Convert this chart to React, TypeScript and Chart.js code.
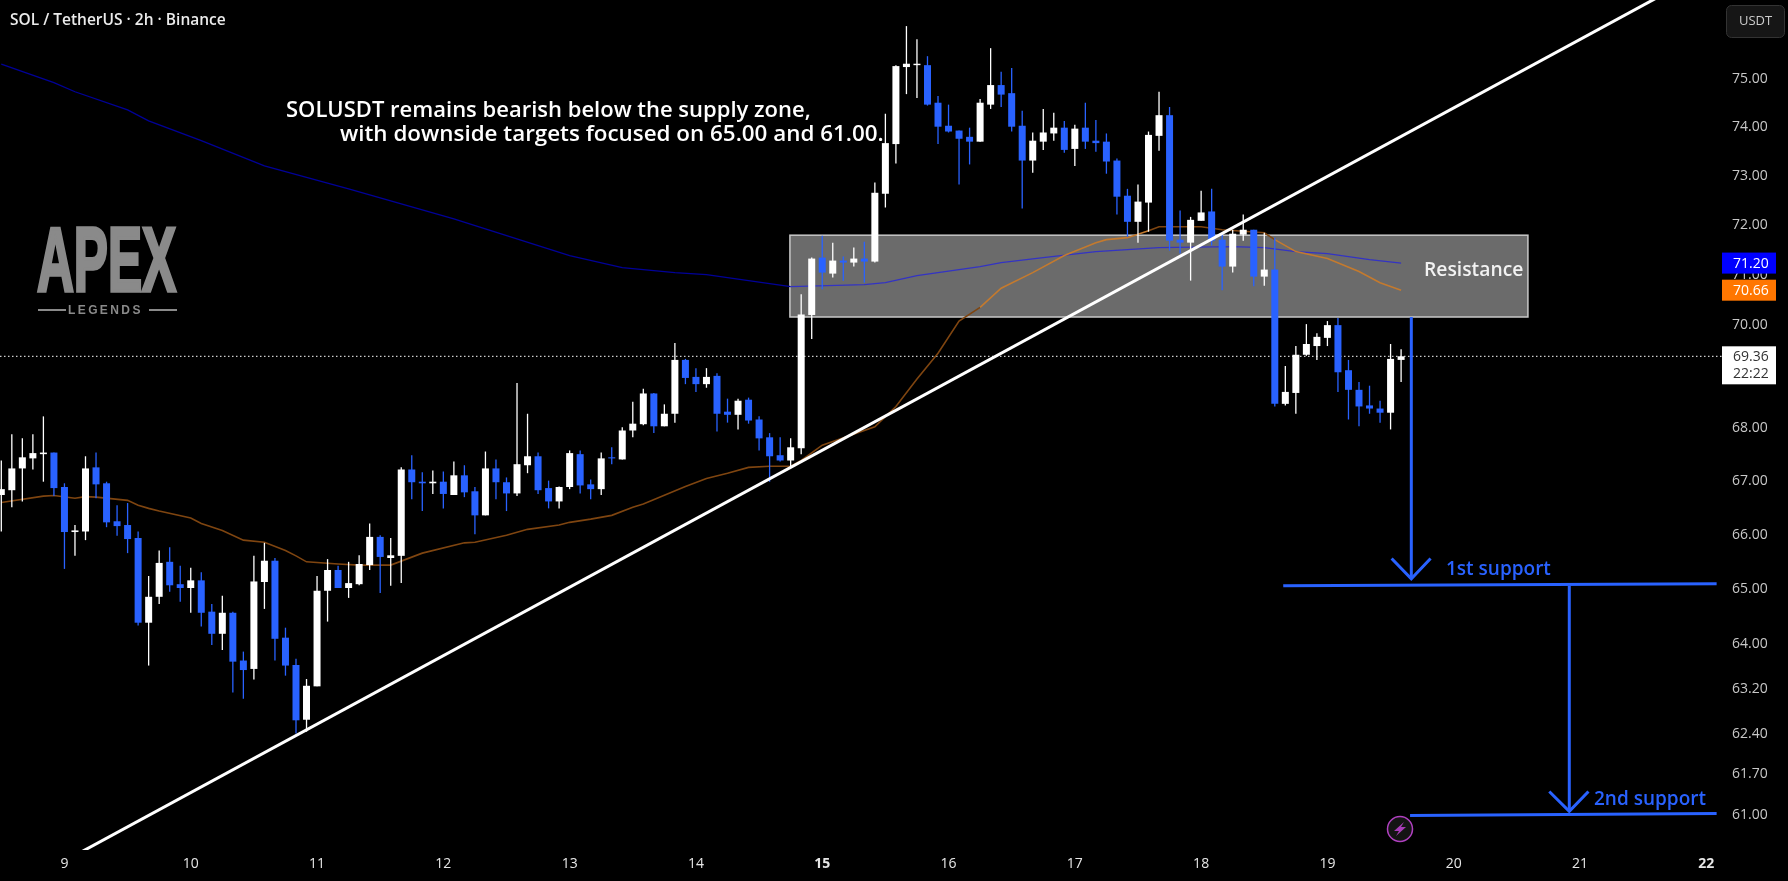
import React, { useEffect, useRef } from "react";
import { Chart, registerables } from "chart.js";

Chart.register(...registerables);

const opens = [
  66.71,66.80,67.21,67.40,67.48,67.51,66.86,66.02,66.03,67.23,
  66.93,66.22,66.15,65.91,64.36,64.83,65.47,65.06,64.99,65.13,
  64.56,64.16,64.54,63.68,63.53,65.10,65.49,64.09,63.60,62.63,
  63.22,64.94,65.32,64.99,65.06,65.41,65.93,65.54,65.58,67.19,
  66.96,66.93,66.96,66.71,67.08,66.78,66.33,67.21,66.95,66.74,
  67.27,67.44,66.84,66.59,66.86,67.48,66.91,66.82,67.42,67.38,
  67.93,68.05,68.64,68.01,68.25,69.29,68.96,68.82,68.98,68.29,
  68.23,68.52,68.14,67.80,67.46,67.36,67.59,70.17,71.31,70.99,
  71.25,71.21,71.29,71.23,72.60,73.62,75.23,75.27,75.27,74.48,
  74.00,73.90,73.77,73.67,74.44,74.85,74.68,74.00,73.28,73.67,
  73.84,73.96,73.52,73.96,73.69,73.67,73.28,72.56,72.03,72.42,
  73.79,74.22,71.67,71.61,72.05,72.24,71.67,71.13,71.77,71.87,
  70.93,71.07,68.44,68.65,69.39,69.56,69.72,69.97,69.09,68.71,
  68.41,68.35,68.27,69.29,
];
const closes = [
  66.82,67.21,67.42,67.50,67.51,66.84,66.02,66.05,67.21,66.91,
  66.20,66.13,65.89,64.36,64.83,65.45,65.04,64.99,65.13,64.54,
  64.16,64.54,63.66,63.51,65.11,65.49,64.07,63.59,62.62,63.23,
  64.94,65.32,64.99,65.08,65.43,65.93,65.56,65.59,67.19,66.95,
  66.93,66.96,66.73,67.08,66.76,66.33,67.21,66.95,66.74,67.29,
  67.44,66.80,66.59,66.86,67.50,66.89,66.82,67.40,67.40,67.93,
  68.06,68.64,68.01,68.25,69.29,68.94,68.82,68.96,68.25,68.23,
  68.50,68.12,67.78,67.44,67.36,67.61,70.18,71.29,71.01,71.25,
  71.21,71.29,71.23,72.62,73.64,75.25,75.30,75.30,74.44,73.98,
  73.88,73.73,73.67,74.48,74.85,74.65,73.98,73.28,73.69,73.86,
  73.96,73.50,73.94,73.67,73.64,73.26,72.54,72.03,72.44,73.81,
  74.22,71.65,71.61,72.07,72.22,71.65,71.13,71.79,71.87,70.93,
  71.07,68.44,68.67,69.39,69.60,69.74,69.97,69.05,68.71,68.39,
  68.35,68.27,69.31,69.36,
];
const highs = [
  67.36,67.86,67.78,67.86,68.20,67.51,66.93,66.15,67.44,67.51,
  66.96,66.52,66.56,66.03,65.21,65.68,65.74,65.40,65.36,65.28,
  64.70,64.85,64.56,63.84,65.58,65.82,65.54,64.27,63.71,63.35,
  65.21,65.52,65.40,65.47,65.59,66.18,65.96,65.91,67.23,67.46,
  67.14,67.17,67.15,67.34,67.27,66.86,67.53,67.38,67.04,68.84,
  68.25,67.51,66.98,66.87,67.55,67.55,67.00,67.51,67.61,67.99,
  68.48,68.73,68.65,68.43,69.62,69.31,69.13,69.13,69.03,68.54,
  68.54,68.56,68.20,67.88,67.80,67.78,70.58,71.31,71.75,71.61,
  71.33,71.51,71.63,72.83,74.25,75.27,76.10,75.82,75.46,74.62,
  74.44,73.90,73.96,74.56,75.63,75.13,75.21,74.31,73.86,74.35,
  74.27,74.10,74.02,74.48,74.12,73.84,73.32,72.70,72.79,73.88,
  74.71,74.39,72.26,72.13,72.66,72.70,71.81,71.87,72.18,71.87,
  71.81,71.71,69.17,69.56,69.99,69.81,70.05,70.11,69.29,68.86,
  68.79,68.50,69.60,69.50,
];
const lows = [
  66.03,66.48,66.59,67.19,66.96,66.69,65.34,65.58,65.87,66.65,
  66.11,65.95,65.63,64.31,63.59,64.70,64.92,64.74,64.54,64.29,
  63.96,63.87,63.11,63.00,63.34,64.61,63.68,63.41,62.39,62.42,
  63.22,64.38,64.99,64.81,65.04,65.32,64.90,65.03,65.08,66.63,
  66.41,66.73,66.46,66.71,66.67,65.98,66.33,66.63,66.41,66.69,
  67.12,66.73,66.46,66.46,66.82,66.74,66.63,66.71,67.29,67.38,
  67.80,68.03,67.88,68.01,68.08,68.82,68.67,68.75,67.91,68.08,
  67.95,68.06,67.55,66.96,67.34,67.25,67.48,69.70,70.68,70.91,
  70.85,71.13,70.81,71.21,72.32,73.22,74.66,74.58,74.42,73.62,
  73.86,72.79,73.20,73.67,74.35,74.39,73.88,72.30,73.03,73.50,
  73.69,73.44,73.17,73.52,73.46,73.01,72.18,71.73,71.61,71.83,
  73.48,71.45,71.39,70.85,72.05,71.55,70.66,71.01,71.65,70.74,
  70.75,68.39,68.41,68.25,69.37,69.29,69.56,68.67,68.14,68.01,
  68.25,68.08,67.95,68.86,
];

const ma200Index = [0,5,7,12,14,19,25,33,43,54,59,64,67,75,82,84,87,93,95,99,104,110,117,120,123,126,130,133];
const ma200Value = [75.29,74.90,74.71,74.33,74.10,73.69,73.17,72.70,72.09,71.35,71.11,71.01,70.97,70.73,70.77,70.81,70.95,71.13,71.21,71.31,71.43,71.51,71.53,71.51,71.43,71.39,71.27,71.20];

const ema50Index = [0,4,5,7,8,9,12,13,14,15,18,19,21,23,25,27,28,29,32,34,37,40,44,45,48,50,53,54,56,58,60,61,65,67,69,71,73,75,76,78,83,85,87,89,91,93,95,98,101,104,105,107,109,110,114,116,120,121,122,123,126,129,131,133];
const ema50Value = [66.57,66.69,66.70,66.65,66.68,66.67,66.61,66.52,66.46,66.41,66.28,66.18,66.05,65.87,65.83,65.68,65.58,65.47,65.43,65.41,65.41,65.63,65.82,65.83,65.96,66.07,66.15,66.20,66.26,66.33,66.48,66.54,66.87,67.02,67.12,67.23,67.25,67.25,67.36,67.65,68.00,68.39,68.92,69.42,70.05,70.32,70.70,71.01,71.35,71.61,71.67,71.71,71.85,71.93,71.93,71.87,71.81,71.67,71.55,71.43,71.29,71.03,70.81,70.66];

const dayTickIndex = [6,18,30,42,54,66,78,90,102,114,126,138,150,162];
const dayTickLabels = ["9","10","11","12","13","14","15","16","17","18","19","20","21","22"];
const boldDays = ["15","22"];
const priceTicks = [75,74,73,72,71,70,68,67,66,65,64,63.2,62.4,61.7,61];

const lastPrice = 69.36;
const ma200Last = 71.2;
const ema50Last = 70.66;
const countdown = "22:22";

const resistanceIndex = [74.93, 145.05];
const resistancePrice = [70.13, 71.76];

const trendIndex = [7.63, 157.4];
const trendPrice = [60.35, 76.72];
const arrow1Index = [133.97, 133.97];
const arrow1Price = [70.13, 65.16];
const head1Index = [132.1, 133.97, 135.8];
const head1Price = [65.53, 65.16, 65.53];
const support1Index = [121.8, 162.98];
const support1Price = [65.03, 65.07];
const arrow2Index = [148.98, 148.98];
const arrow2Price = [65.03, 61.04];
const head2Index = [147.08, 148.98, 150.8];
const head2Price = [61.38, 61.04, 61.38];
const support2Index = [133.85, 162.98];
const support2Price = [60.97, 61.0];

const X_MIN = -0.1235;
const X_MAX = 163.49;
const Y_MIN = 60.38;
const Y_MAX = 76.66;

const BLUE = "#2962ff";
const WHITE = "#ffffff";
const FONT = "'Open Sans', sans-serif";

const zip = (xs: number[], ys: number[]) => xs.map((x, i) => ({ x, y: ys[i] }));

const inBox = (p: any) =>
  p.parsed.x >= resistanceIndex[0] &&
  p.parsed.y <= resistancePrice[1] &&
  p.parsed.y >= resistancePrice[0];

const annotationLine = (xs: number[], ys: number[], color: string, width: number, order = 0, dash: number[] = []) => ({
  type: "line" as const,
  data: zip(xs, ys),
  borderColor: color,
  borderWidth: width,
  borderDash: dash,
  pointRadius: 0,
  tension: 0,
  order,
});

const overlay = {
  id: "overlay",
  beforeDraw(chart: any) {
    const { ctx, width, height } = chart;
    ctx.save();
    ctx.fillStyle = "#000";
    ctx.fillRect(0, 0, width, height);
    ctx.restore();
  },
  beforeDatasetsDraw(chart: any) {
    const { ctx, scales } = chart;
    const x0 = scales.x.getPixelForValue(resistanceIndex[0]);
    const x1 = scales.x.getPixelForValue(resistanceIndex[1]);
    const y0 = scales.y.getPixelForValue(resistancePrice[1]);
    const y1 = scales.y.getPixelForValue(resistancePrice[0]);
    ctx.save();
    ctx.fillStyle = "#6b6b6b";
    ctx.fillRect(x0, y0, x1 - x0, y1 - y0);
    ctx.strokeStyle = "#c9c9c9";
    ctx.lineWidth = 1.5;
    ctx.strokeRect(x0, y0, x1 - x0, y1 - y0);
    ctx.restore();

    // watermark
    ctx.save();
    ctx.fillStyle = "#8a8a8a";
    ctx.strokeStyle = "#8a8a8a";
    ctx.lineWidth = 4;
    ctx.lineJoin = "miter";
    ctx.font = "bold 100px 'Liberation Sans Narrow', 'Liberation Sans', sans-serif";
    ctx.textBaseline = "alphabetic";
    const m = ctx.measureText("APEX").width;
    ctx.translate(37, 291);
    ctx.scale(139 / m, 66 / 72);
    ctx.fillText("APEX", 0, 0);
    ctx.strokeText("APEX", 0, 0);
    ctx.restore();
    ctx.save();
    ctx.fillStyle = "#8a8a8a";
    ctx.fillRect(38, 309, 28, 2);
    ctx.fillRect(149, 309, 28, 2);
    ctx.font = "bold 12px 'Liberation Sans', sans-serif";
    (ctx as any).letterSpacing = "2.4px";
    ctx.textBaseline = "middle";
    ctx.fillText("LEGENDS", 68, 311);
    ctx.restore();
  },
  afterDatasetsDraw(chart: any) {
    const { ctx } = chart;
    ctx.save();
    ctx.textBaseline = "middle";
    ctx.fillStyle = WHITE;
    ctx.font = `600 22px ${FONT}`;
    ctx.fillText("SOLUSDT remains bearish below the supply zone,", 286, 111);
    ctx.font = `600 22.4px ${FONT}`;
    ctx.fillText("with downside targets focused on 65.00 and 61.00.", 340, 135);
    ctx.fillStyle = "#f2f2f2";
    ctx.font = `600 19.3px ${FONT}`;
    ctx.fillText("Resistance", 1424, 271);
    ctx.fillStyle = BLUE;
    ctx.font = `600 19px ${FONT}`;
    ctx.fillText("1st support", 1446, 570);
    ctx.fillText("2nd support", 1594, 800);
    ctx.restore();
  },
  afterDraw(chart: any) {
    const { ctx, scales } = chart;
    ctx.save();
    ctx.textBaseline = "middle";

    // price axis labels
    ctx.font = `14px ${FONT}`;
    ctx.fillStyle = "#c8c8c8";
    priceTicks.forEach((p) => {
      ctx.fillText(p.toFixed(2), 1732, scales.y.getPixelForValue(p) + 1.5);
    });

    const label = (price: number, h: number, bg: string) => {
      const y = scales.y.getPixelForValue(price);
      ctx.fillStyle = bg;
      ctx.fillRect(1722, y - h, 54, h * 2);
      return y;
    };
    let y = label(ma200Last, 10.5, "#0000ff");
    ctx.fillStyle = "#ffffff";
    ctx.fillText(ma200Last.toFixed(2), 1733, y + 1);
    y = label(ema50Last, 10.5, "#ff7600");
    ctx.fillStyle = "#ffffff";
    ctx.fillText(ema50Last.toFixed(2), 1733, y + 1);

    const ly = scales.y.getPixelForValue(lastPrice);
    ctx.fillStyle = "#ffffff";
    ctx.fillRect(1722, ly - 10, 54, 38);
    ctx.fillStyle = "#333333";
    ctx.fillText(lastPrice.toFixed(2), 1733, ly + 1);
    ctx.fillText(countdown, 1733, ly + 18);

    // currency button
    ctx.fillStyle = "#161616";
    ctx.strokeStyle = "#333333";
    ctx.lineWidth = 1;
    ctx.beginPath();
    ctx.roundRect(1726.5, 5.5, 58, 32, 5);
    ctx.fill();
    ctx.stroke();
    ctx.fillStyle = "#cccccc";
    ctx.font = `13px ${FONT}`;
    ctx.textAlign = "center";
    ctx.fillText("USDT", 1755.5, 21.5);
    ctx.textAlign = "left";

    // header
    ctx.fillStyle = "#ebebeb";
    ctx.font = `600 15.5px ${FONT}`;
    ctx.fillText("SOL / TetherUS · 2h · Binance", 10, 20.5);

    // lightning badge
    ctx.beginPath();
    ctx.arc(1400, 829, 12.5, 0, Math.PI * 2);
    ctx.fillStyle = "#141414";
    ctx.fill();
    ctx.strokeStyle = "#b040c0";
    ctx.lineWidth = 1.5;
    ctx.stroke();
    ctx.beginPath();
    [[4,-7],[-6,2],[-1,2],[-4,7],[6,-2],[1,-2]].forEach(([dx, dy], i) =>
      i ? ctx.lineTo(1400 + dx, 829 + dy) : ctx.moveTo(1400 + dx, 829 + dy));
    ctx.closePath();
    ctx.fillStyle = "#a83cb8";
    ctx.fill();
    ctx.restore();
  },
};

export default function App() {
  const ref = useRef<HTMLCanvasElement | null>(null);

  useEffect(() => {
    document.body.style.margin = "0";
    document.body.style.background = "#000";
    const idx = opens.map((_, i) => i);
    const colors = closes.map((c, i) => (c >= opens[i] ? WHITE : BLUE));
    const chart = new Chart(ref.current as HTMLCanvasElement, {
      type: "bar",
      data: {
        datasets: [
          annotationLine(trendIndex, trendPrice, WHITE, 3),
          annotationLine(arrow1Index, arrow1Price, BLUE, 3),
          annotationLine(head1Index, head1Price, BLUE, 3),
          annotationLine(support1Index, support1Price, BLUE, 3),
          annotationLine(arrow2Index, arrow2Price, BLUE, 3),
          annotationLine(head2Index, head2Price, BLUE, 3),
          annotationLine(support2Index, support2Price, BLUE, 3),
          {
            type: "bar" as const,
            data: idx.map((i) => ({ x: i, y: [opens[i], closes[i]] })),
            backgroundColor: colors,
            barThickness: 7,
            grouped: false,
            inflateAmount: 0,
            order: 1,
          },
          {
            type: "bar" as const,
            data: idx.map((i) => ({ x: i, y: [lows[i], highs[i]] })),
            backgroundColor: colors,
            barThickness: 1.3,
            grouped: false,
            inflateAmount: 0,
            order: 2,
          },
          {
            ...annotationLine(ema50Index, ema50Value, "#7f4510", 1.6, 3),
            segment: { borderColor: (c: any) => (inBox(c.p0) ? "#c47a2e" : undefined) },
          },
          {
            ...annotationLine(ma200Index, ma200Value, "#000098", 1.3, 4),
            segment: { borderColor: (c: any) => (inBox(c.p0) ? "#3333c4" : undefined) },
          },
          annotationLine([X_MIN, X_MAX], [lastPrice, lastPrice], "#ffffff", 1, 5, [1.5, 2.5]),
        ] as any,
      },
      options: {
        animation: false,
        responsive: false,
        devicePixelRatio: 1,
        layout: { padding: 0, autoPadding: false },
        plugins: { legend: { display: false }, tooltip: { enabled: false } },
        scales: {
          x: {
            type: "linear",
            min: X_MIN,
            max: X_MAX,
            offset: false,
            grid: { display: false, drawTicks: false },
            border: { display: false },
            afterBuildTicks: (s: any) => {
              s.ticks = dayTickIndex.map((value) => ({ value }));
            },
            afterFit: (s: any) => {
              s.height = 31;
              s.paddingLeft = 0;
              s.paddingRight = 0;
            },
            ticks: {
              autoSkip: false,
              maxRotation: 0,
              padding: 6,
              color: "#e6e6e6",
              callback: (v: any) => dayTickLabels[dayTickIndex.indexOf(v)],
              font: (c: any) => {
                const t = dayTickLabels[dayTickIndex.indexOf(c.tick?.value)];
                return { family: FONT, size: 14, weight: boldDays.includes(t) ? "700" : "400" };
              },
            },
          },
          y: {
            type: "logarithmic",
            position: "right",
            min: Y_MIN,
            max: Y_MAX,
            grid: { display: false, drawTicks: false },
            border: { display: false },
            afterBuildTicks: (s: any) => {
              s.ticks = priceTicks.map((value) => ({ value }));
            },
            afterFit: (s: any) => {
              s.width = 66;
              s.paddingTop = 0;
              s.paddingBottom = 0;
            },
            ticks: { display: false },
          },
        },
      } as any,
      plugins: [overlay],
    });
    return () => chart.destroy();
  }, []);

  return (
    <div style={{ width: 1788, height: 881, background: "#000" }}>
      <canvas ref={ref} width={1788} height={881} style={{ display: "block" }} />
    </div>
  );
}
